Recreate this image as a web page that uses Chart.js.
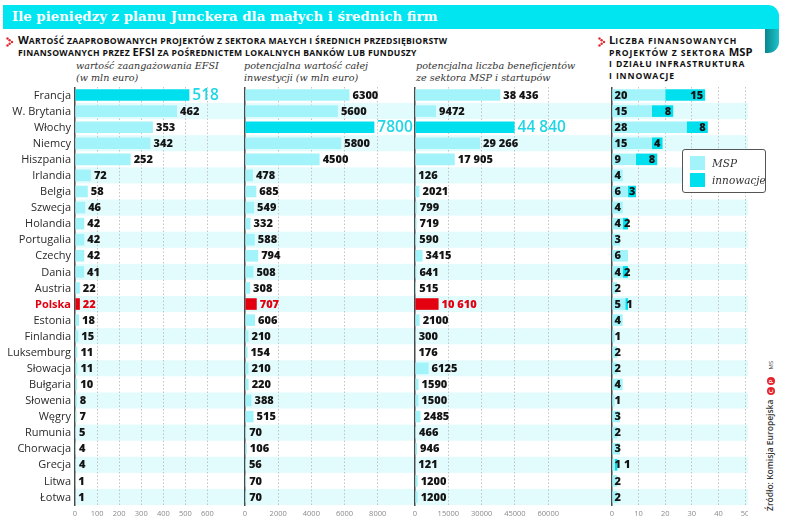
<!DOCTYPE html>
<html lang="pl">
<head>
<meta charset="utf-8">
<title>Ile pieniędzy z planu Junckera dla małych i średnich firm</title>
<script src="https://cdn.jsdelivr.net/npm/chart.js@4.4.1/dist/chart.umd.min.js"></script>
<style>
  html, body { margin: 0; padding: 0; background: #fff; }
  body { width: 788px; height: 526px; position: relative; overflow: hidden; font-family: "Open Sans", sans-serif; }
  .banner { position: absolute; left: 3px; top: 5px; width: 776px; height: 24px; background: #00e5f0; border-radius: 0 11px 0 0; }
  .fold { position: absolute; left: 765px; top: 29px; width: 14px; height: 24px; background: linear-gradient(90deg, #08868d, #1fc3cc); border-radius: 0 0 11px 0; }
  .title { position: absolute; left: 12px; top: 5px; line-height: 24px; color: #fff; font-family: "DejaVu Serif", serif; font-weight: bold; font-size: 13.3px; white-space: nowrap; }
  .head { position: absolute; font-weight: 700; text-transform: uppercase; font-size: 8.6px; line-height: 11.7px; letter-spacing: 0.33px; color: #111; white-space: nowrap; }
  .head .big { font-size: 11.2px; letter-spacing: 0; line-height: 0; }
  .bullet { position: absolute; }
  .sub { position: absolute; font-family: "DejaVu Serif", serif; font-style: italic; font-size: 9.6px; line-height: 11.5px; color: #333; white-space: nowrap; }
  canvas { position: absolute; top: 87px; }
  .legend { position: absolute; left: 682px; top: 149px; width: 82px; height: 42px; border: 1.3px solid #555; border-radius: 3px; background: #fff; }
  .legend .sw { position: absolute; left: 7px; width: 15px; height: 14px; }
  .legend .lb { position: absolute; left: 29px; font-family: "DejaVu Serif", serif; font-style: italic; font-size: 10.5px; color: #333; line-height: 14px; }
  .source { position: absolute; left: 765px; top: 511px; transform: rotate(-90deg); transform-origin: left top; white-space: nowrap; font-size: 8.5px; line-height: 10px; font-weight: 600; color: #333; }
  .source .cp { display: inline-block; width: 8px; height: 8px; border-radius: 50%; background: #e3262e; color: #fff; font-size: 6px; line-height: 8px; text-align: center; vertical-align: middle; margin-left: 2px; }
  .source .ms { font-size: 6px; font-weight: 400; margin-left: 8px; }
</style>
</head>
<body>
<div class="banner"></div>
<div class="fold"></div>
<div class="title">Ile pieniędzy z planu Junckera dla małych i średnich firm</div>

<svg class="bullet" style="left:6px;top:37px" width="8" height="10"><g fill="#e3262e"><circle cx="1.5" cy="1.5" r="1.2"/><circle cx="3.6" cy="3.2" r="1.2"/><circle cx="6" cy="5" r="1.2"/><circle cx="3.6" cy="6.8" r="1.2"/><circle cx="1.5" cy="8.5" r="1.2"/></g></svg>
<div class="head" style="left:18px;top:36px"><span class="big">W</span>artość zaaprobowanych projektów z sektora małych i średnich przedsiębiorstw<br>finansowanych przez <span class="big">EFSI</span> za pośrednictem lokalnych banków lub funduszy</div>

<svg class="bullet" style="left:598px;top:37px" width="8" height="10"><g fill="#e3262e"><circle cx="1.5" cy="1.5" r="1.2"/><circle cx="3.6" cy="3.2" r="1.2"/><circle cx="6" cy="5" r="1.2"/><circle cx="3.6" cy="6.8" r="1.2"/><circle cx="1.5" cy="8.5" r="1.2"/></g></svg>
<div class="head" style="left:609px;top:36px;letter-spacing:0.9px"><span class="big">L</span>iczba finansowanych<br>projektów z sektora <span class="big">MSP</span><br>i działu infrastruktura<br>i innowacje</div>

<div class="sub" style="left:76px;top:60px">wartość zaangażowania EFSI<br>(w mln euro)</div>
<div class="sub" style="left:244px;top:60px">potencjalna wartość całej<br>inwestycji (w mln euro)</div>
<div class="sub" style="left:416px;top:60px">potencjalna liczba beneficjentów<br>ze sektora MSP i startupów</div>

<canvas id="efsi" width="245" height="439" style="left:0"></canvas>
<canvas id="investment" width="178" height="439" style="left:237px"></canvas>
<canvas id="beneficiaries" width="191" height="439" style="left:407px"></canvas>
<canvas id="projects" width="150" height="439" style="left:598px"></canvas>

<div class="legend">
  <div class="sw" style="top:6px;background:#a3f4fa"></div><div class="lb" style="top:6px">MSP</div>
  <div class="sw" style="top:23px;background:#00dfee"></div><div class="lb" style="top:23px">innowacje</div>
</div>

<div class="source">Źródło: Komisja Europejska <span class="cp">C</span><span class="cp">P</span><span class="ms">MS</span></div>

<script>
const countries = [
  "Francja", "W. Brytania", "Włochy", "Niemcy", "Hiszpania", "Irlandia", "Belgia",
  "Szwecja", "Holandia", "Portugalia", "Czechy", "Dania", "Austria", "Polska",
  "Estonia", "Finlandia", "Luksemburg", "Słowacja", "Bułgaria", "Słowenia", "Węgry",
  "Rumunia", "Chorwacja", "Grecja", "Litwa", "Łotwa",
];

// wartość zaangażowania EFSI (mln euro)
const efsi = [518, 462, 353, 342, 252, 72, 58, 46, 42, 42, 42, 41, 22, 22, 18, 15, 11, 11, 10, 8, 7, 5, 4, 4, 1, 1];
// potencjalna wartość całej inwestycji (mln euro)
const investment = [6300, 5600, 7800, 5800, 4500, 478, 685, 549, 332, 588, 794, 508, 308, 707, 606, 210, 154, 210, 220, 388, 515, 70, 106, 56, 70, 70];
// potencjalna liczba beneficjentów
const beneficiaries = [38436, 9472, 44840, 29266, 17905, 126, 2021, 799, 719, 590, 3415, 641, 515, 10610, 2100, 300, 176, 6125, 1590, 1500, 2485, 466, 946, 121, 1200, 1200];
// liczba projektów: MSP i innowacje
const projectsMsp = [20, 15, 28, 15, 9, 4, 6, 4, 4, 3, 6, 4, 2, 5, 4, 1, 2, 2, 4, 1, 3, 2, 3, 1, 2, 2];
const projectsInnov = [15, 8, 8, 4, 8, 0, 3, 0, 2, 0, 0, 2, 0, 1, 0, 0, 0, 0, 0, 0, 0, 0, 0, 1, 0, 0];

const efsiTicks = [0, 100, 200, 300, 400, 500, 600];
const investmentTicks = [0, 2000, 4000, 6000, 8000];
const beneficiaryTicks = [0, 15000, 30000, 45000, 60000];
const projectTicks = [0, 10, 20, 30, 40, 50];

const LIGHT = "#a3f4fa";
const STRONG = "#00dfee";
const STRONG_TEXT = "#1fd6e6";
const RED = "#e3000f";
const STRIPE = "#e2fbfd";
const INK = "#141414";
const polskaIndex = countries.indexOf("Polska");

function formatValue(v) {
  return v >= 10000 ? String(v).replace(/\B(?=(\d{3})+(?!\d))/g, " ") : String(v);
}

function maxIndex(values) {
  return values.indexOf(Math.max(...values));
}

const stripes = {
  id: "stripes",
  beforeDraw(chart, args, opts) {
    const { ctx, chartArea } = chart;
    const yScale = chart.scales.y;
    const step = (chartArea.bottom - chartArea.top) / countries.length;
    const x0 = opts.fromEdge ? 0 : chartArea.left;
    ctx.save();
    ctx.fillStyle = STRIPE;
    countries.forEach((c, i) => {
      if (i % 2 === 1) {
        const yc = yScale.getPixelForValue(i);
        ctx.fillRect(x0, yc - step / 2, chartArea.right - x0, step);
      }
    });
    ctx.restore();
  },
};

const countryLabels = {
  id: "countryLabels",
  afterDraw(chart, args, opts) {
    if (!opts.show) return;
    const { ctx, chartArea } = chart;
    const yScale = chart.scales.y;
    ctx.save();
    ctx.textAlign = "right";
    ctx.textBaseline = "middle";
    countries.forEach((c, i) => {
      const isPl = i === polskaIndex;
      ctx.font = (isPl ? "bold " : "") + '11px "Open Sans"';
      ctx.fillStyle = isPl ? RED : "#2a2a2a";
      ctx.fillText(c, chartArea.left - 4, yScale.getPixelForValue(i) + 0.5);
    });
    ctx.restore();
  },
};

const valueLabels = {
  id: "valueLabels",
  afterDatasetsDraw(chart, args, opts) {
    if (!opts.show) return;
    const { ctx } = chart;
    const data = chart.data.datasets[0].data;
    const top = maxIndex(data);
    ctx.save();
    ctx.textAlign = "left";
    ctx.textBaseline = "middle";
    chart.getDatasetMeta(0).data.forEach((bar, i) => {
      let font = '800 11px "Open Sans"';
      let color = INK;
      if (i === top) {
        font = '600 15.5px "Open Sans"';
        color = STRONG_TEXT;
      } else if (i === polskaIndex) {
        color = RED;
      }
      ctx.font = font;
      ctx.fillStyle = color;
      ctx.fillText(formatValue(data[i]), bar.x + 3, bar.y + 0.5);
    });
    ctx.restore();
  },
};

const projectLabels = {
  id: "projectLabels",
  afterDatasetsDraw(chart, args, opts) {
    if (!opts.show) return;
    const { ctx, chartArea } = chart;
    const msp = chart.getDatasetMeta(0).data;
    const inn = chart.getDatasetMeta(1).data;
    ctx.save();
    ctx.font = '800 11px "Open Sans"';
    ctx.fillStyle = INK;
    ctx.textAlign = "left";
    ctx.textBaseline = "middle";
    msp.forEach((bar, i) => {
      const x0 = chartArea.left + 2.5;
      const first = String(projectsMsp[i]);
      ctx.fillText(first, x0, bar.y + 0.5);
      if (projectsInnov[i] > 0) {
        const second = String(projectsInnov[i]);
        const w = ctx.measureText(second).width;
        const seg = inn[i];
        const x = Math.max(seg.base + 1, x0 + ctx.measureText(first).width + 3, seg.x - w - 2);
        ctx.fillText(second, x, bar.y + 0.5);
      }
    });
    ctx.restore();
  },
};

Chart.register(stripes, countryLabels, valueLabels, projectLabels);

function buildOptions(max, ticks, axisWidth, extra) {
  return {
    indexAxis: "y",
    responsive: false,
    animation: false,
    events: [],
    layout: { padding: 0 },
    plugins: {
      legend: { display: false },
      tooltip: { enabled: false },
      stripes: { fromEdge: extra.fromEdge || false },
      countryLabels: { show: extra.countries || false },
      valueLabels: { show: extra.values || false },
      projectLabels: { show: extra.projects || false },
    },
    scales: {
      x: {
        min: 0,
        max: max,
        stacked: extra.stacked || false,
        afterBuildTicks: (scale) => {
          scale.ticks = ticks.map((v) => ({ value: v }));
        },
        afterFit: (scale) => {
          scale.height = 21;
          scale.paddingLeft = 0;
          scale.paddingRight = 0;
        },
        grid: {
          color: (c) => (c.tick && c.tick.value === 0 ? "rgba(0,0,0,0)" : "#b5b5b5"),
          lineWidth: 0.8,
          drawTicks: false,
        },
        border: { display: false, dash: [1.5, 2] },
        ticks: {
          padding: 4,
          color: "#8a8a8a",
          font: { family: "Open Sans", size: 7.5 },
          callback: (value) => String(value),
        },
      },
      y: {
        stacked: extra.stacked || false,
        afterFit: (scale) => {
          scale.width = axisWidth;
        },
        ticks: { display: false },
        grid: { display: false },
        border: { display: true, color: "#4a4a4a", width: 1.5 },
      },
    },
  };
}

function barColors(values) {
  const top = maxIndex(values);
  return values.map((v, i) => (i === top ? STRONG : i === polskaIndex ? RED : LIGHT));
}

function buildPanel(id, values, max, ticks, axisWidth, extra) {
  return new Chart(document.getElementById(id), {
    type: "bar",
    data: {
      labels: countries,
      datasets: [
        {
          data: values,
          backgroundColor: barColors(values),
          barPercentage: 0.72,
          categoryPercentage: 1,
          borderWidth: 0,
        },
      ],
    },
    options: buildOptions(max, ticks, axisWidth, extra),
  });
}

buildPanel("efsi", efsi, 770, efsiTicks, 75, { countries: true, values: true });
buildPanel("investment", investment, 10250, investmentTicks, 8, { values: true });
buildPanel("beneficiaries", beneficiaries, 82400, beneficiaryTicks, 8, { values: true });

new Chart(document.getElementById("projects"), {
  type: "bar",
  data: {
    labels: countries,
    datasets: [
      {
        label: "MSP",
        data: projectsMsp,
        backgroundColor: LIGHT,
        barPercentage: 0.72,
        categoryPercentage: 1,
        borderWidth: 0,
      },
      {
        label: "innowacje",
        data: projectsInnov,
        backgroundColor: STRONG,
        barPercentage: 0.72,
        categoryPercentage: 1,
        borderWidth: 0,
      },
    ],
  },
  options: buildOptions(51.1, projectTicks, 14, { fromEdge: true, projects: true, stacked: true }),
});
</script>
</body>
</html>
